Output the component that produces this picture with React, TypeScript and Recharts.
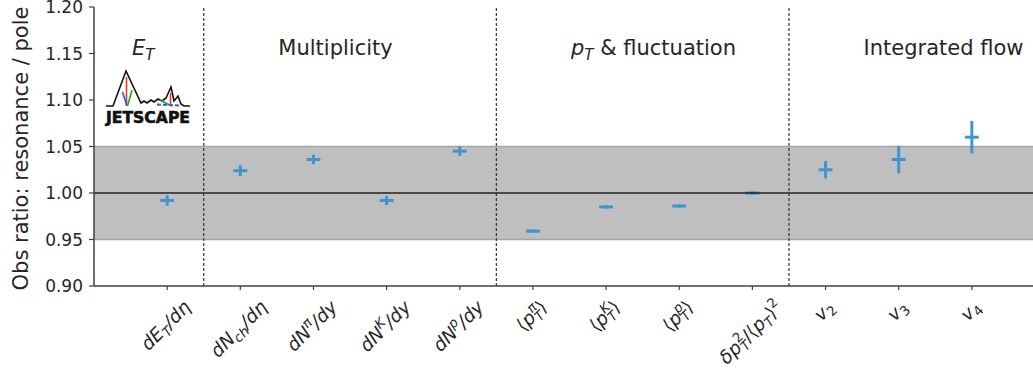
import {
    ScatterChart,
    Scatter,
    XAxis,
    YAxis,
    ErrorBar,
    ReferenceArea,
    ReferenceLine,
    Label,
} from 'recharts';

const FONT = '"DejaVu Sans", "Liberation Sans", sans-serif';
const BLUE = '#4094d0';
const INK = '#262626';

// ratio resonance / pole per observable (x = index)
const ratios = [0.992, 1.024, 1.036, 0.992, 1.045, 0.959, 0.985, 0.986, 1.0, 1.025, 1.036, 1.06];
const ratioErr = [0.0055, 0.0057, 0.005, 0.005, 0.005, 0.0018, 0.0018, 0.0018, 0.0018, 0.0093, 0.0147, 0.0174];
const binHalfWidth = 0.095;

const yTicks = [0.9, 0.95, 1.0, 1.05, 1.1, 1.15, 1.2];
const dividers = [0.5, 4.5, 8.5];

// [text, kind, italic]  kind: n normal, b subscript, p superscript, u subscript stacked under previous sup
type Seg = [string, 'n' | 'b' | 'p' | 'u', boolean?];

const tickLabels: Seg[][] = [
    [['dE', 'n', true], ['T', 'b', true], ['/dη', 'n', true]],
    [['dN', 'n', true], ['ch', 'b', true], ['/dη', 'n', true]],
    [['dN', 'n', true], ['π', 'p', true], ['/dy', 'n', true]],
    [['dN', 'n', true], ['K', 'p', true], ['/dy', 'n', true]],
    [['dN', 'n', true], ['p', 'p', true], ['/dy', 'n', true]],
    [['⟨', 'n'], ['p', 'n', true], ['π', 'p', true], ['T', 'u', true], ['⟩', 'n']],
    [['⟨', 'n'], ['p', 'n', true], ['K', 'p', true], ['T', 'u', true], ['⟩', 'n']],
    [['⟨', 'n'], ['p', 'n', true], ['p', 'p', true], ['T', 'u', true], ['⟩', 'n']],
    [['δp', 'n', true], ['2', 'p'], ['T', 'u', true], ['/⟨', 'n'], ['p', 'n', true], ['T', 'b', true], ['⟩', 'n'], ['2', 'p']],
    [['v', 'n', true], ['2', 'b']],
    [['v', 'n', true], ['3', 'b']],
    [['v', 'n', true], ['4', 'b']],
];

const groupTitles: Seg[][] = [
    [['E', 'n', true], ['T', 'b', true]],
    [['Multiplicity', 'n']],
    [['p', 'n', true], ['T', 'b', true], [' & fluctuation', 'n']],
    [['Integrated flow', 'n']],
];

const points = ratios.map((v, i) => ({ x: i, y: v, ey: ratioErr[i], ex: binHalfWidth }));
const titles = [-1.5, ...dividers].map((d, i) => ({ x: d + 1.02, y: 1.148, i }));

let ctx: CanvasRenderingContext2D | null = null;
function textWidth(t: string, size: number, italic?: boolean): number {
    if (!ctx) ctx = document.createElement('canvas').getContext('2d');
    if (!ctx) return t.length * size * 0.6;
    ctx.font = `${italic ? 'italic ' : ''}${size}px "DejaVu Sans"`;
    return ctx.measureText(t).width;
}

function richText(segs: Seg[], fs: number) {
    const small = fs * 0.72;
    let base = 0;
    let pending = 0;
    let lastSup = 0;
    let width = 0;
    const spans = segs.map(([t, k, it], i) => {
        const size = k === 'n' ? fs : small;
        const target = k === 'n' ? 0 : k === 'p' ? -0.4 * fs : 0.22 * fs;
        const dy = target - base;
        base = target;
        const w = textWidth(t, size, it);
        let dx = pending;
        pending = 0;
        if (k === 'u') {
            dx -= lastSup;
            pending = Math.max(0, lastSup - w);
        }
        if (k === 'p') lastSup = w;
        width += dx + w;
        return (
            <tspan key={i} dx={dx} dy={dy} fontSize={size} fontStyle={it ? 'italic' : 'normal'}>
                {t}
            </tspan>
        );
    });
    width += pending;
    return { spans, width };
}

/* eslint-disable @typescript-eslint/no-explicit-any */
function XTick({ x, y, payload }: any) {
    const segs = tickLabels[payload?.value];
    if (!segs) return null;
    const fs = 18.5;
    const { spans, width } = richText(segs, fs);
    const half = (width + fs * 0.8) * 0.3536;
    return (
        <text
            transform={`translate(${x - 1},${y + 7 + half}) rotate(-45)`}
            y={fs * 0.3}
            textAnchor="middle"
            fontFamily={FONT}
            fontSize={fs}
            fill={INK}
        >
            {spans}
        </text>
    );
}

function YTitle({ viewBox }: any) {
    const cy = viewBox ? viewBox.y + viewBox.height / 2 : 147;
    return (
        <text
            transform={`translate(21,${cy + 2}) rotate(-90)`}
            textAnchor="middle"
            dominantBaseline="central"
            fontFamily={FONT}
            fontSize={21}
            fill={INK}
        >
            Obs ratio: resonance / pole
        </text>
    );
}

function TitleShape(props: any) {
    const segs = groupTitles[props.payload?.i];
    if (!segs) return <g />;
    const { spans } = richText(segs, 21);
    return (
        <text x={props.cx} y={props.cy} fontFamily={FONT} fontSize={21} fill={INK}>
            {spans}
        </text>
    );
}

function Logo() {
    return (
        <svg width={1033} height={373} style={{ position: 'absolute', left: 0, top: 0, pointerEvents: 'none' }}>
            <polyline
                points="106,106 113,106 126,71 141,103 144,101 147,103 151,100 154,102 158,99 162,101 166,98 171,87 174,101 178,96 181,104 184,106 190,106"
                fill="none"
                stroke="#111"
                strokeWidth={1.6}
            />
            <line x1={126.5} y1={77} x2={126.5} y2={106} stroke="#e8362a" strokeWidth={1.6} />
            <line x1={122.5} y1={92} x2={127} y2={106} stroke="#2a5bea" strokeWidth={1.6} />
            <line x1={132} y1={90} x2={127.5} y2={106} stroke="#26a22a" strokeWidth={1.6} />
            <line x1={170.5} y1={93} x2={170.5} y2={106} stroke="#e8362a" strokeWidth={1.6} />
            <line x1={160} y1={100} x2={171.5} y2={106} stroke="#26a22a" strokeWidth={1.6} />
            <line x1={157} y1={104.5} x2={181} y2={105.5} stroke="#2a5bea" strokeWidth={2} strokeDasharray="4 2" />
            <text
                x={106}
                y={123}
                textLength={84}
                lengthAdjust="spacingAndGlyphs"
                fontFamily={FONT}
                fontWeight={900}
                fontSize={15}
                fill="#111"
                stroke="#111"
                strokeWidth={0.6}
            >
                JETSCAPE
            </text>
        </svg>
    );
}

export default function App() {
    return (
        <div style={{ position: 'absolute', left: 0, top: 0, width: 1033, height: 373, overflow: 'hidden', background: '#fff' }}>
            <ScatterChart width={1045} height={373} margin={{ top: 7, right: 0, bottom: 0, left: 0 }}>
                <XAxis
                    type="number"
                    dataKey="x"
                    domain={[-1, 12]}
                    ticks={[0, 1, 2, 3, 4, 5, 6, 7, 8, 9, 10, 11]}
                    interval={0}
                    allowDataOverflow
                    height={87}
                    tickSize={4}
                    tickMargin={2}
                    axisLine={{ stroke: '#404040', strokeWidth: 1.5 }}
                    tickLine={{ stroke: '#404040', strokeWidth: 1.2 }}
                    tick={<XTick />}
                />
                <YAxis
                    type="number"
                    dataKey="y"
                    domain={[0.9, 1.2]}
                    ticks={yTicks}
                    interval={0}
                    allowDataOverflow
                    width={94}
                    tickSize={5}
                    tickMargin={6}
                    tickFormatter={(v: number) => v.toFixed(2)}
                    axisLine={{ stroke: '#404040', strokeWidth: 1.5 }}
                    tickLine={{ stroke: '#404040', strokeWidth: 1.2 }}
                    tick={{ fill: INK, fontSize: 17, fontFamily: FONT }}
                >
                    <Label content={<YTitle />} />
                </YAxis>
                <ReferenceArea y1={0.95} y2={1.05} fill="#bfbfbf" fillOpacity={1} stroke="none" />
                <ReferenceLine y={0.95} stroke="#a6a6a6" strokeWidth={1.5} />
                <ReferenceLine y={1.05} stroke="#a6a6a6" strokeWidth={1.5} />
                {dividers.map((d) => (
                    <ReferenceLine key={d} x={d} stroke="#333" strokeWidth={1.2} strokeDasharray="3 2" />
                ))}
                <Scatter data={points} isAnimationActive={false} shape={() => <g />}>
                    <ErrorBar dataKey="ey" direction="y" width={0} stroke={BLUE} strokeWidth={3} isAnimationActive={false} />
                    <ErrorBar dataKey="ex" direction="x" width={0} stroke={BLUE} strokeWidth={3} isAnimationActive={false} />
                </Scatter>
                <ReferenceLine y={1} stroke="#222" strokeWidth={1.5} />
                <Scatter data={titles} isAnimationActive={false} shape={<TitleShape />} />
            </ScatterChart>
            <Logo />
        </div>
    );
}
